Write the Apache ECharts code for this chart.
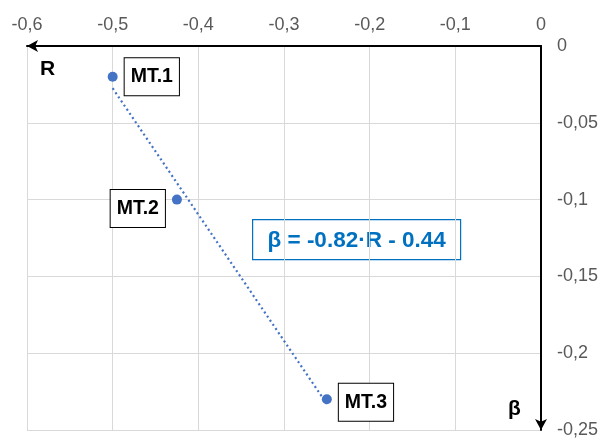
<!DOCTYPE html>
<html>
<head>
<meta charset="utf-8">
<script src="https://cdn.jsdelivr.net/npm/echarts@6/dist/echarts.min.js"></script>
<style>html,body{margin:0;padding:0;background:#fff}#c{width:604px;height:440px}</style>
</head>
<body>
<div id="c"></div>
<script>
// Data
const pointNames = ['MT.1', 'MT.2', 'MT.3'];
const rValues = [-0.5, -0.425, -0.25];
const betaValues = [-0.02, -0.1, -0.23];
const trendR = [-0.5, -0.25];
const trendBeta = [-0.0275, -0.233];
const xTicks = { min: -0.6, max: 0, interval: 0.1 };
const yTicks = { min: -0.25, max: 0, interval: 0.05 };
const equationText = 'β = -0.82·R - 0.44';
const xName = 'R';
const yName = 'β';

const FONT = '"Liberation Sans", Arial, sans-serif';
const labelSides = ['right', 'left', 'right'];
const labelOffsets = [[0, 0], [0, 9], [0, 3]];

const fmt = v => String(Math.round(v * 1000) / 1000).replace('.', ',');

const chart = echarts.init(document.getElementById('c'), null, { renderer: 'canvas' });
chart.setOption({
  animation: false,
  backgroundColor: '#fff',
  grid: { left: 27, right: 63, top: 46, bottom: 10, containLabel: false },
  xAxis: {
    type: 'value', position: 'top',
    min: xTicks.min, max: xTicks.max, interval: xTicks.interval,
    axisLine: { show: true, onZero: false, lineStyle: { color: '#000', width: 2 }, symbol: ['arrow', 'none'], symbolSize: [9, 11] },
    axisTick: { show: false },
    axisLabel: { formatter: fmt, color: '#595959', fontSize: 18, fontFamily: FONT, margin: 12, showMinLabel: true, showMaxLabel: true },
    splitLine: { show: true, lineStyle: { color: '#d9d9d9', width: 1 } }
  },
  yAxis: {
    type: 'value', position: 'right',
    min: yTicks.min, max: yTicks.max, interval: yTicks.interval,
    axisLine: { show: true, onZero: false, lineStyle: { color: '#000', width: 2 }, symbol: ['arrow', 'none'], symbolSize: [9, 11] },
    axisTick: { show: false },
    axisLabel: { formatter: fmt, color: '#595959', fontSize: 18, fontFamily: FONT, margin: 16, showMinLabel: true, showMaxLabel: true },
    splitLine: { show: true, lineStyle: { color: '#d9d9d9', width: 1 } }
  },
  series: [
    {
      type: 'line',
      data: trendR.map((r, i) => [r, trendBeta[i]]),
      symbol: 'none',
      lineStyle: { color: '#4472C4', width: 2.2, type: [2, 3] },
      z: 2, silent: true
    },
    {
      type: 'scatter',
      symbolSize: 10,
      itemStyle: { color: '#4472C4', opacity: 1 },
      z: 3,
      data: rValues.map((r, i) => ({
        value: [r, betaValues[i]],
        name: pointNames[i],
        label: {
          show: true, position: labelSides[i], distance: 7, offset: labelOffsets[i],
          formatter: '{b}', color: '#000', fontSize: 19.5, fontWeight: 'bold', fontFamily: FONT,
          lineHeight: 20, opacity: 1,
          backgroundColor: '#fff', borderColor: '#000', borderWidth: 1, padding: [9, 6, 8, 6]
        }
      }))
    }
  ],
  graphic: [
    { type: 'text', left: 40, top: 59, style: { text: xName, font: 'bold 21px ' + FONT, fill: '#000' } },
    { type: 'text', left: 508, top: 399, style: { text: yName, font: 'bold 21px ' + FONT, fill: '#000' } },
    {
      type: 'group', left: 252, top: 219, z: 10,
      children: [
        { type: 'rect', shape: { x: 0, y: 0, width: 208, height: 40 }, style: { fill: '#fff', stroke: '#0070C0', lineWidth: 1.2 } },
        { type: 'text', style: { x: 104, y: 21, text: equationText, font: 'bold 22.5px ' + FONT, fill: '#0070C0', align: 'center', verticalAlign: 'middle' } }
      ]
    }
  ]
});
</script>
</body>
</html>
